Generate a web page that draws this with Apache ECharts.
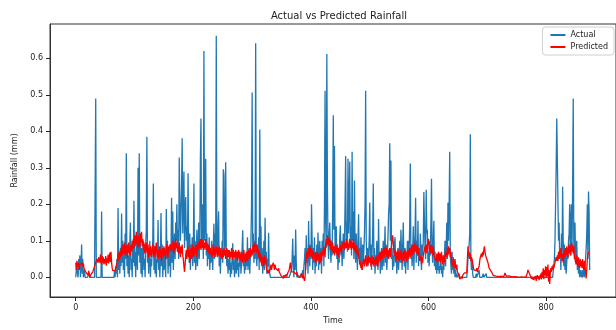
<!DOCTYPE html>
<html>
<head>
<meta charset="utf-8">
<script src="https://cdn.jsdelivr.net/npm/echarts@6/dist/echarts.min.js"></script>
<style>
  html, body { margin: 0; padding: 0; background: #fff; }
  #chart { width: 616px; height: 330px; }
</style>
</head>
<body>
<div id="chart"></div>
<script>
// rainfall per time step (index = time)
const actual = [
  0, 0.02, 0.04, 0.01, 0, 0.05, 0.02, 0.06, 0, 0.03,
  0.09, 0.01, 0.05, 0, 0, 0.02, 0, 0, 0, 0,
  0, 0, 0, 0.01, 0, 0, 0, 0, 0, 0,
  0, 0, 0, 0, 0.49, 0, 0, 0, 0, 0,
  0, 0, 0, 0, 0.18, 0, 0, 0, 0, 0,
  0, 0, 0, 0, 0, 0, 0, 0, 0, 0,
  0, 0, 0, 0, 0, 0, 0.02, 0, 0.03, 0.01,
  0.05, 0, 0.19, 0.02, 0.06, 0.01, 0.08, 0.03, 0.175, 0.04,
  0.1, 0.02, 0.07, 0, 0.12, 0.05, 0.34, 0.03, 0.08, 0.01,
  0.06, 0, 0.1, 0.15, 0.02, 0.05, 0, 0.09, 0.04, 0.21,
  0.03, 0.07, 0, 0.11, 0.05, 0.02, 0.3, 0.06, 0.34, 0.04,
  0.12, 0.01, 0.08, 0, 0.06, 0.1, 0.02, 0.05, 0, 0.09,
  0.13, 0.385, 0.04, 0.08, 0.01, 0.06, 0.1, 0, 0.05, 0.03,
  0.07, 0.1, 0.257, 0.02, 0.06, 0.01, 0.08, 0, 0.05, 0.04,
  0.157, 0.02, 0.07, 0, 0.05, 0.176, 0.03, 0.09, 0, 0.06,
  0.02, 0.08, 0.04, 0, 0.187, 0.05, 0.1, 0.01, 0.07, 0.03,
  0.09, 0, 0.06, 0.218, 0.04, 0.18, 0.02, 0.08, 0.12, 0.05,
  0.15, 0.1, 0.2, 0.07, 0.13, 0.05, 0.328, 0.22, 0.1, 0.16,
  0.25, 0.381, 0.12, 0.2, 0.29, 0.08, 0.18, 0.22, 0.1, 0.14,
  0.06, 0.285, 0.1, 0.04, 0.12, 0.02, 0.09, 0.05, 0.11, 0.03,
  0.08, 0.257, 0.04, 0.1, 0.02, 0.06, 0.13, 0.03, 0.07, 0.15,
  0.05, 0.1, 0.326, 0.435, 0.08, 0.2, 0.12, 0.05, 0.62, 0.1,
  0.15, 0.325, 0.06, 0.12, 0.03, 0.09, 0.05, 0.11, 0.02, 0.08,
  0.04, 0.1, 0.06, 0.02, 0.09, 0.147, 0.05, 0.12, 0.08, 0.662,
  0.1, 0.06, 0.13, 0.181, 0.03, 0.08, 0.01, 0.07, 0.05, 0.1,
  0.04, 0.296, 0.28, 0.06, 0.1, 0.315, 0.08, 0.03, 0.06, 0.01,
  0.05, 0.02, 0.07, 0, 0.04, 0.01, 0.06, 0.093, 0.02, 0.05,
  0, 0.03, 0.06, 0.01, 0.07, 0.02, 0.04, 0, 0.05, 0.03,
  0.06, 0.01, 0.04, 0.08, 0.129, 0.03, 0.06, 0.01, 0.05, 0.02,
  0.07, 0.03, 0.11, 0.02, 0.05, 0.08, 0.01, 0.06, 0.1, 0.2,
  0.506, 0.08, 0.12, 0.04, 0.1, 0.05, 0.641, 0.07, 0.03, 0.09,
  0.05, 0.11, 0.02, 0.405, 0.06, 0.14, 0.03, 0.08, 0.01, 0.05,
  0.1, 0.02, 0.163, 0.04, 0.07, 0.01, 0.05, 0.03, 0.122, 0.02,
  0.01, 0, 0, 0, 0, 0, 0, 0, 0, 0,
  0, 0, 0, 0, 0, 0, 0, 0, 0, 0,
  0, 0, 0, 0, 0, 0, 0, 0, 0, 0,
  0, 0, 0, 0, 0, 0, 0, 0.02, 0.05, 0.106,
  0.03, 0, 0.06, 0.02, 0.131, 0.04, 0, 0.01, 0, 0,
  0, 0, 0, 0.01, 0, 0, 0.02, 0, 0.03, 0.05,
  0.08, 0.02, 0.115, 0.04, 0.07, 0.01, 0.154, 0.06, 0.03, 0.09,
  0.05, 0.2, 0.1, 0.02, 0.08, 0.04, 0.11, 0.01, 0.06, 0.03,
  0.09, 0.05, 0.123, 0.02, 0.07, 0.1, 0.04, 0.08, 0.01, 0.1,
  0.06, 0.12, 0.03, 0.2, 0.511, 0.15, 0.08, 0.612, 0.25, 0.1,
  0.05, 0.12, 0.15, 0.08, 0.04, 0.1, 0.06, 0.2, 0.444, 0.13,
  0.36, 0.07, 0.1, 0.14, 0.05, 0.09, 0.02, 0.08, 0.04, 0.11,
  0.142, 0.06, 0.1, 0.03, 0.08, 0.12, 0.05, 0.09, 0.2, 0.332,
  0.1, 0.15, 0.07, 0.325, 0.12, 0.2, 0.317, 0.08, 0.14, 0.06,
  0.344, 0.1, 0.18, 0.05, 0.265, 0.09, 0.04, 0.12, 0.07, 0.02,
  0.1, 0.173, 0.05, 0.08, 0.03, 0.11, 0.06, 0.02, 0.09, 0.04,
  0.07, 0.12, 0.2, 0.511, 0.1, 0.05, 0.08, 0.03, 0.06, 0.1,
  0.205, 0.04, 0.09, 0.02, 0.07, 0.12, 0.257, 0.05, 0.08, 0.01,
  0.06, 0.03, 0.1, 0.05, 0.02, 0.16, 0.04, 0.07, 0.01, 0.05,
  0.08, 0.02, 0.06, 0.1, 0.03, 0.07, 0.14, 0.04, 0.09, 0.02,
  0.06, 0.11, 0.173, 0.2, 0.367, 0.1, 0.32, 0.05, 0.08, 0.02,
  0.06, 0.03, 0.09, 0.11, 0.04, 0.07, 0.01, 0.05, 0.08, 0.02,
  0.06, 0.1, 0.04, 0.13, 0.07, 0.02, 0.09, 0.15, 0.05, 0.03,
  0.08, 0.01, 0.06, 0.04, 0.1, 0.02, 0.1, 0.07, 0.15, 0.312,
  0.05, 0.09, 0.03, 0.07, 0.14, 0.02, 0.08, 0.12, 0.218, 0.04,
  0.1, 0.06, 0.155, 0.03, 0.08, 0.05, 0.12, 0.07, 0.02, 0.09,
  0.06, 0.1, 0.234, 0.15, 0.08, 0.05, 0.24, 0.12, 0.13, 0.04,
  0.07, 0.03, 0.1, 0.06, 0.15, 0.27, 0.08, 0.04, 0.1, 0.155,
  0.03, 0.07, 0.02, 0.05, 0.01, 0.04, 0.02, 0.06, 0.01, 0.03,
  0.02, 0.05, 0.01, 0.03, 0, 0.04, 0.02, 0.06, 0.1, 0.03,
  0.08, 0.15, 0.05, 0.205, 0.1, 0.2, 0.344, 0.06, 0.03, 0.01,
  0.07, 0.02, 0.04, 0.01, 0.03, 0, 0.02, 0, 0.01, 0,
  0, 0, 0.01, 0, 0, 0, 0, 0, 0, 0,
  0, 0, 0, 0, 0, 0, 0.02, 0.05, 0.06, 0.09,
  0.12, 0.392, 0.05, 0.02, 0.05, 0.01, 0, 0, 0, 0,
  0, 0.01, 0, 0, 0, 0, 0.02, 0, 0, 0,
  0, 0, 0, 0.01, 0, 0, 0, 0, 0.01, 0,
  0, 0, 0, 0, 0, 0, 0, 0, 0, 0,
  0, 0, 0, 0, 0, 0, 0, 0, 0, 0,
  0, 0, 0, 0, 0, 0, 0, 0, 0, 0,
  0, 0, 0, 0, 0, 0, 0, 0, 0, 0,
  0, 0, 0, 0, 0, 0, 0, 0, 0, 0,
  0, 0, 0, 0, 0, 0, 0, 0, 0, 0,
  0, 0, 0, 0, 0, 0, 0, 0, 0, 0,
  0, 0, 0, 0, 0, 0, 0, 0, 0, 0,
  0, 0, 0, 0, 0, 0, 0, 0, 0, 0,
  0, 0, 0, 0, 0, 0, 0, 0, 0, 0,
  0, 0, 0, 0, 0, 0, 0, 0, 0, 0,
  0, 0, 0, 0, 0.05, 0.1, 0.2, 0.3, 0.435, 0.43,
  0.43, 0.1, 0.15, 0.05, 0.08, 0.02, 0.12, 0.06, 0.248, 0.1,
  0.03, 0.09, 0.02, 0.06, 0.01, 0.04, 0.08, 0.05, 0.1, 0.12,
  0.2, 0.06, 0.15, 0.2, 0.08, 0.25, 0.49, 0.1, 0.05, 0.15,
  0.04, 0.08, 0.1, 0.02, 0.05, 0.01, 0.03, 0, 0.02, 0.01,
  0, 0.02, 0, 0.01, 0.03, 0, 0.02, 0.05, 0.08, 0.12,
  0.2, 0.05, 0.235, 0.18, 0.02
];

const predicted = [
  0.04, 0.02, 0.045, 0.03, 0.025, 0.04, 0.02, 0.035, 0.03, 0.04,
  0.035, 0.04, 0.03, 0.038, 0.025, 0.03, 0.02, 0.015, 0.02, 0.01,
  0.015, 0.005, 0.018, 0.01, 0.0, -0.005, 0.008, 0.012, 0.004, 0.015,
  0.01, 0.02, 0.03, 0.025, 0.04, 0.035, 0.05, 0.045, 0.04, 0.055,
  0.05, 0.04, 0.062, 0.045, 0.035, 0.058, 0.04, 0.055, 0.035, 0.05,
  0.038, 0.058, 0.032, 0.052, 0.04, 0.062, 0.038, 0.05, 0.068, 0.042,
  0.07, 0.04, 0.025, 0.018, 0.022, 0.015, 0.02, 0.018, 0.025, 0.02,
  0.03, 0.045, 0.065, 0.045, 0.07, 0.05, 0.075, 0.055, 0.085, 0.06,
  0.08, 0.09, 0.065, 0.095, 0.06, 0.085, 0.065, 0.09, 0.055, 0.08,
  0.095, 0.065, 0.085, 0.06, 0.09, 0.07, 0.1, 0.075, 0.105, 0.08,
  0.115, 0.085, 0.105, 0.125, 0.09, 0.11, 0.08, 0.115, 0.095, 0.085,
  0.12, 0.095, 0.125, 0.085, 0.105, 0.075, 0.095, 0.065, 0.09, 0.07,
  0.095, 0.075, 0.065, 0.09, 0.055, 0.08, 0.06, 0.085, 0.065, 0.055,
  0.08, 0.09, 0.065, 0.055, 0.085, 0.06, 0.08, 0.095, 0.065, 0.055,
  0.075, 0.05, 0.07, 0.085, 0.055, 0.075, 0.045, 0.07, 0.08, 0.055,
  0.085, 0.06, 0.075, 0.05, 0.08, 0.09, 0.065, 0.055, 0.085, 0.07,
  0.065, 0.09, 0.095, 0.07, 0.085, 0.1, 0.08, 0.065, 0.095, 0.075,
  0.105, 0.08, 0.095, 0.07, 0.085, 0.065, 0.095, 0.07, 0.055, 0.085,
  0.065, 0.09, 0.06, 0.05, 0.03, 0.015, 0.035, 0.06, 0.075, 0.05,
  0.07, 0.085, 0.055, 0.075, 0.04, 0.065, 0.08, 0.05, 0.075, 0.09,
  0.055, 0.08, 0.06, 0.085, 0.065, 0.09, 0.055, 0.08, 0.095, 0.075,
  0.1, 0.08, 0.105, 0.075, 0.095, 0.105, 0.08, 0.1, 0.075, 0.095,
  0.08, 0.105, 0.075, 0.095, 0.07, 0.09, 0.065, 0.085, 0.06, 0.08,
  0.085, 0.065, 0.055, 0.08, 0.09, 0.06, 0.08, 0.055, 0.075, 0.085,
  0.065, 0.055, 0.08, 0.06, 0.085, 0.065, 0.055, 0.08, 0.06, 0.05,
  0.075, 0.055, 0.08, 0.06, 0.075, 0.05, 0.07, 0.08, 0.055, 0.075,
  0.055, 0.075, 0.05, 0.07, 0.055, 0.08, 0.06, 0.05, 0.075, 0.055,
  0.07, 0.05, 0.075, 0.055, 0.07, 0.045, 0.065, 0.075, 0.05, 0.07,
  0.055, 0.045, 0.07, 0.05, 0.04, 0.065, 0.075, 0.045, 0.065, 0.04,
  0.06, 0.07, 0.045, 0.065, 0.075, 0.05, 0.07, 0.08, 0.055, 0.075,
  0.06, 0.08, 0.09, 0.065, 0.085, 0.095, 0.07, 0.09, 0.065, 0.085,
  0.07, 0.055, 0.075, 0.045, 0.065, 0.04, 0.06, 0.035, 0.055, 0.03,
  0.05, 0.06, 0.035, 0.055, 0.03, 0.02, 0.015, 0.01, 0.02, 0.012,
  0.018, 0.025, 0.035, 0.02, 0.03, 0.025, 0.04, 0.03, 0.02, 0.035,
  0.025, 0.03, 0.02, 0.028, 0.018, 0.025, 0.015, 0.02, 0.01, 0.005,
  0.008, 0.0, 0.005, -0.003, 0.006, 0.0, -0.005, 0.004, 0.008, 0.002,
  0.01, 0.015, 0.012, 0.02, 0.018, 0.04, 0.025, 0.015, 0.02, 0.012,
  0.018, 0.015, 0.01, 0.02, 0.012, 0.008, 0.015, 0.005, 0.01, 0.004,
  0.008, 0.002, 0.006, 0.0, 0.005, 0.01, -0.003, 0.004, 0.006, -0.01,
  0.0, 0.03, 0.05, 0.07, 0.05, 0.08, 0.055, 0.075, 0.085, 0.06,
  0.08, 0.055, 0.075, 0.05, 0.07, 0.075, 0.055, 0.045, 0.07, 0.04,
  0.06, 0.07, 0.045, 0.04, 0.065, 0.035, 0.06, 0.07, 0.045, 0.065,
  0.075, 0.06, 0.085, 0.07, 0.055, 0.09, 0.105, 0.085, 0.115, 0.09,
  0.11, 0.085, 0.105, 0.075, 0.1, 0.08, 0.07, 0.095, 0.065, 0.085,
  0.06, 0.08, 0.09, 0.065, 0.085, 0.06, 0.08, 0.055, 0.075, 0.085,
  0.07, 0.09, 0.065, 0.085, 0.095, 0.08, 0.1, 0.075, 0.095, 0.08,
  0.105, 0.08, 0.095, 0.1, 0.075, 0.095, 0.105, 0.08, 0.1, 0.075,
  0.095, 0.08, 0.105, 0.075, 0.095, 0.07, 0.09, 0.065, 0.085, 0.06,
  0.075, 0.06, 0.05, 0.035, 0.045, 0.025, 0.04, 0.02, 0.035, 0.03,
  0.05, 0.03, 0.045, 0.06, 0.04, 0.03, 0.055, 0.035, 0.06, 0.04,
  0.035, 0.055, 0.03, 0.05, 0.06, 0.035, 0.055, 0.03, 0.05, 0.035,
  0.055, 0.035, 0.06, 0.04, 0.03, 0.055, 0.065, 0.05, 0.07, 0.045,
  0.065, 0.075, 0.05, 0.07, 0.08, 0.055, 0.075, 0.085, 0.06, 0.08,
  0.055, 0.075, 0.05, 0.07, 0.08, 0.055, 0.075, 0.085, 0.105, 0.115,
  0.095, 0.07, 0.06, 0.075, 0.055, 0.045, 0.07, 0.05, 0.075, 0.055,
  0.045, 0.07, 0.05, 0.075, 0.055, 0.04, 0.06, 0.07, 0.045, 0.065,
  0.075, 0.05, 0.07, 0.045, 0.065, 0.075, 0.05, 0.07, 0.08, 0.055,
  0.075, 0.085, 0.06, 0.08, 0.09, 0.065, 0.085, 0.095, 0.07, 0.085,
  0.065, 0.09, 0.06, 0.08, 0.055, 0.045, 0.04, 0.06, 0.035, 0.055,
  0.04, 0.06, 0.055, 0.075, 0.085, 0.07, 0.09, 0.065, 0.085, 0.095,
  0.105, 0.08, 0.07, 0.085, 0.065, 0.09, 0.07, 0.06, 0.085, 0.065,
  0.055, 0.06, 0.06, 0.045, 0.065, 0.04, 0.06, 0.07, 0.045, 0.065,
  0.04, 0.06, 0.07, 0.045, 0.035, 0.06, 0.065, 0.04, 0.06, 0.07,
  0.075, 0.055, 0.08, 0.06, 0.085, 0.065, 0.08, 0.055, 0.07, 0.045,
  0.05, 0.03, 0.055, 0.035, 0.025, 0.05, 0.03, 0.02, 0.035, 0.015,
  0.015, 0.008, 0.003, -0.005, 0.0, -0.01, 0.002, -0.004, 0.005, 0.0,
  0.008, 0.012, 0.01, 0.014, 0.008, 0.012, 0.01, 0.085, 0.06, 0.07,
  0.05, 0.065, 0.045, 0.055, 0.05, 0.04, 0.03, 0.02, 0.025, 0.015,
  0.02, 0.018, 0.025, 0.015, 0.022, 0.02, 0.03, 0.045, 0.055, 0.05,
  0.065, 0.055, 0.07, 0.06, 0.075, 0.085, 0.07, 0.06, 0.065, 0.05,
  0.055, 0.04, 0.035, 0.025, 0.03, 0.02, 0.025, 0.015, 0.02, 0.01,
  0.005, 0.002, 0.003, 0.001, 0.002, 0.003, 0.002, 0.001, 0.003, 0.002,
  0.002, 0.003, 0.001, 0.002, 0.003, 0.002, 0.004, 0.003, 0.002, 0.003,
  0.012, 0.008, 0.003, 0.002, 0.001, 0.003, 0.002, 0.004, 0.002, 0.001,
  0.003, 0.002, 0.001, 0.003, 0.002, 0.0, 0.002, 0.001, 0.003, 0.002,
  0.001, 0.0, 0.002, 0.001, 0.0, 0.002, 0.001, 0.003, 0.001, 0.0,
  0.002, 0.001, 0.0, 0.002, 0.001, 0.0, 0.002, 0.005, 0.012, 0.02,
  0.018, 0.022, 0.015, 0.005, 0.0, -0.004, 0.002, -0.006, 0.0, -0.008,
  0.002, -0.005, 0.004, -0.01, 0.0, 0.006, -0.004, 0.003, -0.008, 0.005,
  -0.003, 0.01, -0.006, 0.015, 0.0, 0.025, -0.005, 0.02, 0.005, 0.03,
  -0.002, 0.028, 0.004, 0.035, -0.012, 0.02, -0.018, 0.01, 0.025, 0.015,
  0.03, 0.02, 0.035, 0.025, 0.03, 0.04, 0.035, 0.055, 0.045, 0.06,
  0.045, 0.07, 0.05, 0.075, 0.055, 0.08, 0.06, 0.045, 0.065, 0.04,
  0.06, 0.075, 0.055, 0.08, 0.06, 0.085, 0.065, 0.055, 0.08, 0.09,
  0.065, 0.085, 0.06, 0.095, 0.07, 0.09, 0.065, 0.085, 0.06, 0.05,
  0.055, 0.035, 0.06, 0.04, 0.03, 0.055, 0.035, 0.025, 0.05, 0.03,
  0.045, 0.025, 0.05, 0.03, 0.02, 0.045, 0.025, 0.015, -0.003, 0.02,
  0.05, 0.065, 0.06, 0.07, 0.068
];

const xTicks = [0, 200, 400, 600, 800];
const yTicks = [0, 0.1, 0.2, 0.3, 0.4, 0.5, 0.6];

const font = 'DejaVu Sans';
const chart = echarts.init(document.getElementById('chart'));

chart.setOption({
  animation: false,
  backgroundColor: '#fff',
  title: {
    text: 'Actual vs Predicted Rainfall',
    left: 334,
    top: 6,
    textAlign: 'center',
    textStyle: { fontFamily: font, fontSize: 10, fontWeight: 'normal', color: '#222' }
  },
  legend: {
    orient: 'vertical',
    right: 2,
    top: 27,
    padding: [4, 6, 4, 8],
    itemGap: 4,
    itemWidth: 15,
    itemHeight: 2,
    icon: 'rect',
    borderColor: '#d0d0d0',
    borderWidth: 1,
    borderRadius: 3,
    backgroundColor: 'rgba(255,255,255,0.8)',
    textStyle: { fontFamily: font, fontSize: 8, color: '#222' },
    data: ['Actual', 'Predicted']
  },
  grid: {
    left: 50,
    right: -2,
    top: 24,
    bottom: 24,
    show: true,
    borderColor: '#333',
    borderWidth: 1
  },
  xAxis: {
    type: 'value',
    min: -43.75,
    max: 918.75,
    name: 'Time',
    nameLocation: 'middle',
    nameGap: 20,
    nameTextStyle: { fontFamily: font, fontSize: 8, color: '#222' },
    axisLine: { show: true, onZero: false, lineStyle: { color: '#333', width: 1 } },
    axisTick: { show: true, length: 4, lineStyle: { color: '#222', width: 1 }, customValues: xTicks },
    axisLabel: { fontFamily: font, fontSize: 8, color: '#222', margin: 7, customValues: xTicks },
    splitLine: { show: false }
  },
  yAxis: {
    type: 'value',
    min: -0.054,
    max: 0.694,
    name: 'Rainfall (mm)',
    nameLocation: 'middle',
    nameGap: 23,
    nameTextStyle: { fontFamily: font, fontSize: 8, color: '#222' },
    axisLine: { show: true, onZero: false, lineStyle: { color: '#333', width: 1 } },
    axisTick: { show: true, length: 4, lineStyle: { color: '#222', width: 1 }, customValues: yTicks },
    axisLabel: {
      fontFamily: font, fontSize: 8, color: '#222', margin: 7,
      customValues: yTicks,
      formatter: v => v.toFixed(1)
    },
    splitLine: { show: false }
  },
  series: [
    {
      name: 'Actual',
      type: 'line',
      showSymbol: false,
      color: '#1f77b4',
      lineStyle: { width: 1.3, color: '#1f77b4' },
      data: actual.map((v, i) => [i, v])
    },
    {
      name: 'Predicted',
      type: 'line',
      showSymbol: false,
      color: '#ff0000',
      lineStyle: { width: 1.3, color: '#ff0000' },
      data: predicted.map((v, i) => [i, v])
    }
  ]
});
</script>
</body>
</html>
